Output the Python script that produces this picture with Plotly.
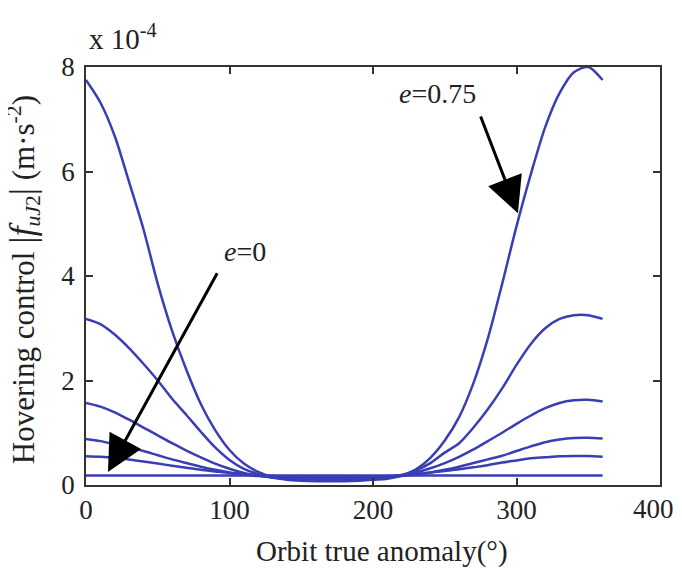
import plotly.graph_objects as go

# Orbit true anomaly (deg)
anomaly = list(range(0, 361, 10))

# Hovering control |f_uJ2| in units of 1e-4 m/s^2, one list per eccentricity
f_e000 = [0.18] * 37
f_e015 = [0.55, 0.54, 0.52, 0.49, 0.45, 0.41, 0.37, 0.33, 0.29, 0.26, 0.23, 0.21, 0.19,
          0.17, 0.16, 0.155, 0.15, 0.15, 0.15, 0.155, 0.16, 0.17, 0.19, 0.21, 0.24, 0.27,
          0.30, 0.34, 0.38, 0.43, 0.47, 0.51, 0.53, 0.55, 0.555, 0.555, 0.54]
f_e030 = [0.88, 0.84, 0.78, 0.72, 0.65, 0.57, 0.49, 0.42, 0.35, 0.29, 0.24, 0.20, 0.17,
          0.15, 0.14, 0.13, 0.13, 0.13, 0.13, 0.13, 0.14, 0.15, 0.17, 0.20, 0.24, 0.29,
          0.35, 0.42, 0.49, 0.56, 0.65, 0.74, 0.82, 0.87, 0.90, 0.905, 0.89]
f_e045 = [1.57, 1.50, 1.39, 1.25, 1.10, 0.95, 0.80, 0.66, 0.53, 0.41, 0.31, 0.23, 0.18,
          0.14, 0.12, 0.11, 0.10, 0.10, 0.10, 0.11, 0.12, 0.14, 0.18, 0.24, 0.32, 0.42,
          0.54, 0.68, 0.84, 1.00, 1.17, 1.33, 1.47, 1.57, 1.62, 1.63, 1.60]
f_e060 = [3.18, 3.08, 2.88, 2.62, 2.32, 2.00, 1.65, 1.34, 1.02, 0.72, 0.48, 0.31, 0.21,
          0.15, 0.12, 0.10, 0.09, 0.09, 0.09, 0.10, 0.11, 0.14, 0.19, 0.28, 0.42, 0.62,
          0.80, 1.10, 1.45, 1.85, 2.30, 2.70, 3.00, 3.18, 3.25, 3.25, 3.18]
f_e075 = [7.75, 7.32, 6.68, 5.80, 4.90, 3.85, 2.95, 2.20, 1.55, 1.05, 0.67, 0.41, 0.25,
          0.15, 0.10, 0.08, 0.07, 0.07, 0.07, 0.08, 0.10, 0.12, 0.18, 0.30, 0.52, 0.85,
          1.30, 1.95, 2.80, 3.85, 4.95, 5.95, 6.85, 7.50, 7.90, 8.00, 7.75]

series = [f_e000, f_e015, f_e030, f_e045, f_e060, f_e075]

x_ticks = [0, 100, 200, 300, 400]
x_ticktext = ["0", "100", "200", "300", "400"]
y_ticks = [0, 2, 4, 6, 8]

LINE = "#3a3eb4"
AX = "#333333"
FONT = "Liberation Serif"

fig = go.Figure()
for s in series:
    fig.add_trace(go.Scatter(x=anomaly, y=s, mode="lines",
                             line=dict(color=LINE, width=2.5, shape="spline", smoothing=0.8),
                             showlegend=False, hoverinfo="skip"))

axis_common = dict(showline=True, linecolor=AX, linewidth=1.5, mirror="ticks", ticks="inside",
                   ticklen=7, tickwidth=1.5, tickcolor=AX, showgrid=False, zeroline=False,
                   automargin=False, tickfont=dict(family=FONT, size=27, color="#222"))

# last x tick label is drawn as an annotation so it can be nudged inside the page edge
fig.update_xaxes(range=[0, 400], tickvals=x_ticks, ticktext=x_ticktext[:-1] + [""], **axis_common)
fig.update_yaxes(range=[0, 8], tickvals=y_ticks, ticktext=[str(v) for v in y_ticks],
                 ticklabelstandoff=4, **axis_common)

ytitle = ("Hovering control <span style='font-size:36px'>|</span>"
          "<span style='font-size:36px'><i>f</i></span><sub><i>uJ</i>2</sub>"
          "<span style='font-size:36px'>|</span> (m·s<sup>-2</sup>)")

annotations = [
    dict(text=x_ticktext[-1], xref="x", yref="paper", x=x_ticks[-1], y=0, xanchor="center", yanchor="middle",
         xshift=-7, yshift=-24, showarrow=False, borderpad=0, font=dict(family=FONT, size=27, color="#222")),
    # axis titles
    dict(text="Orbit true anomaly(°)", xref="paper", yref="paper", x=0.515, y=-0.158,
         xanchor="center", yanchor="middle", showarrow=False, borderpad=0,
         font=dict(family=FONT, size=29, color="#222")),
    dict(text=ytitle, xref="paper", yref="paper",
         x=-0.108, y=0.49, xanchor="center", yanchor="middle", textangle=-90, showarrow=False, borderpad=0,
         font=dict(family=FONT, size=31, color="#222")),
    # exponent
    dict(text="x 10<sup>-4</sup>", xref="paper", yref="paper", x=0.002, y=1.024, xanchor="left", yanchor="bottom",
         showarrow=False, font=dict(family=FONT, size=29, color="#222")),
    # arrows
    dict(text="", x=15.3, y=0.25, ax=92, ay=4.08, xref="x", yref="y", axref="x", ayref="y",
         showarrow=True, arrowhead=2, arrowsize=2.4, arrowwidth=3, arrowcolor="black"),
    dict(text="", x=301, y=5.2, ax=274.6, ay=7.08, xref="x", yref="y", axref="x", ayref="y",
         showarrow=True, arrowhead=2, arrowsize=2.4, arrowwidth=3, arrowcolor="black"),
    # labels
    dict(text="<i>e</i>=0", x=110.8, y=4.46, xref="x", yref="y", showarrow=False,
         font=dict(family=FONT, size=28, color="#222")),
    dict(text="<i>e</i>=0.75", x=245, y=7.5, xref="x", yref="y", showarrow=False,
         font=dict(family=FONT, size=28, color="#222")),
]

# the page body adds an 8px margin on each side, so the figure is sized to fit the 682x578 window
fig.update_layout(width=666, height=562, autosize=False, margin=dict(l=78, r=14, t=59, b=85),
                  plot_bgcolor="white", paper_bgcolor="white", annotations=annotations)

fig.write_html("out.html")
